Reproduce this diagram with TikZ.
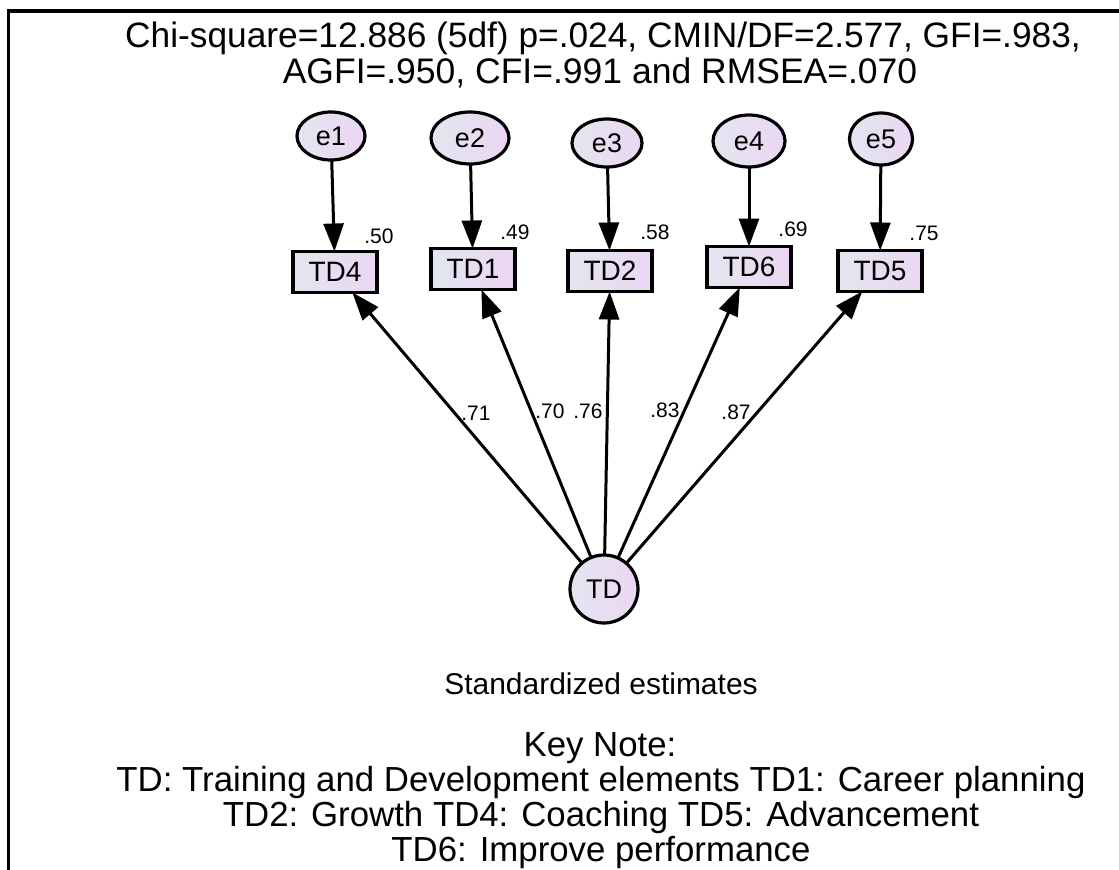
\documentclass[tikz,border=0pt]{standalone}
\usepackage{fontspec}
\setmainfont{Liberation Sans}
\usetikzlibrary{arrows.meta,shapes.geometric}
\definecolor{fillA}{RGB}{226,230,240}
\definecolor{fillB}{RGB}{236,214,242}
\tikzset{
  every node/.style={inner sep=0pt, outer sep=0pt},
  latent/.style={draw, line width=3.2pt, ellipse, left color=fillA, right color=fillB,
    font=\fontsize{27}{27}\selectfont},
  errterm/.style={latent, minimum width=#1, minimum height=48pt},
  observed/.style={draw, line width=3.2pt, rectangle, left color=fillA, right color=fillB,
    minimum width=84pt, minimum height=41pt, font=\fontsize{28}{28}\selectfont},
  arr/.style={line width=3pt, -{Triangle[length=28pt,width=20pt]}},
  coef/.style={font=\fontsize{21}{21}\selectfont},
  bigtext/.style={font=\fontsize{34.8}{34.8}\selectfont, anchor=base},
}
\begin{document}
\begin{tikzpicture}[x=1pt, y=-1pt]
\useasboundingbox (0,0) rectangle (1119,870);
% frame
\draw[line width=3.2pt] (8.5,870) -- (8.5,11) -- (1119,11);

% fit statistics
\node[bigtext, font=\fontsize{35.3}{35.3}\selectfont] (fit1) at (603,47) {Chi-square=12.886 (5df) p=.024, CMIN/DF=2.577, GFI=.983,};
\node[bigtext, font=\fontsize{35.5}{35.5}\selectfont] (fit2) at (600,83) {AGFI=.950, CFI=.991 and RMSEA=.070};

% error terms
\node[errterm=68pt] (e1) at (331,136) {e1};
\node[errterm=78pt, minimum height=52pt] (e2) at (470,138) {e2};
\node[errterm=70pt] (e3) at (607,143) {e3};
\node[errterm=72pt, minimum height=52pt] (e4) at (749,141) {e4};
\node[errterm=63pt, minimum height=52pt] (e5) at (881,139) {e5};

% indicators
\node[observed] (TD4) at (335,272) {TD4};
\node[observed] (TD1) at (473,269) {TD1};
\node[observed] (TD2) at (610,271) {TD2};
\node[observed] (TD6) at (749,267) {TD6};
\node[observed] (TD5) at (880,271) {TD5};

% latent factor
\node[latent, circle, minimum size=68pt] (TD) at (604,589) {TD};

% error paths
\foreach \e/\t in {e1/TD4, e2/TD1, e3/TD2, e4/TD6, e5/TD5}
  \draw[arr] (\e) -- (\t);

% loadings
\foreach \t in {TD4, TD1, TD2, TD6, TD5}
  \draw[arr] (TD) -- (\t);

% squared multiple correlations
\node[coef] (r4) at (379,236) {.50};
\node[coef] (r1) at (515,232) {.49};
\node[coef] (r2) at (655,232) {.58};
\node[coef] (r6) at (793,229) {.69};
\node[coef] (r5) at (924,233) {.75};

% standardized loadings
\node[coef] (l4) at (476,413) {.71};
\node[coef] (l1) at (550,411) {.70};
\node[coef] (l2) at (588,411) {.76};
\node[coef] (l6) at (665,410) {.83};
\node[coef] (l5) at (736,412) {.87};

% captions
\node[bigtext, font=\fontsize{30}{30}\selectfont] (cap) at (601,694) {Standardized estimates};
\node[bigtext] (k0) at (600,756) {Key Note:};
\node[bigtext] (k1) at (601,791) {TD: Training and Development elements TD1: Career planning};
\node[bigtext] (k2) at (601,826) {TD2: Growth TD4: Coaching TD5: Advancement};
\node[bigtext] (k3) at (601,861) {TD6: Improve performance};
\end{tikzpicture}
\end{document}
